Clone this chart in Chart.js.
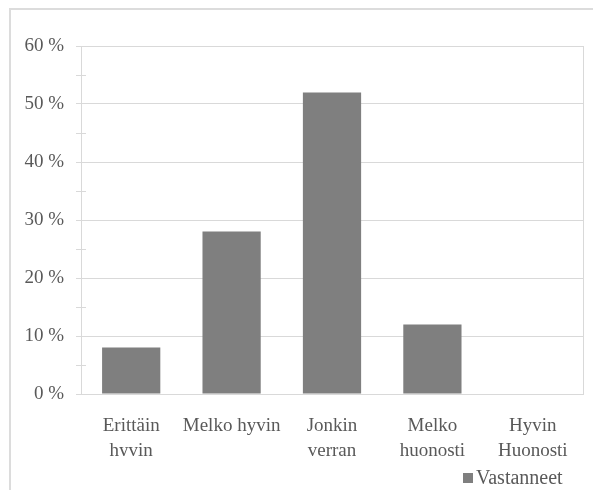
<!DOCTYPE html>
<html>
<head>
<meta charset="utf-8">
<script src="https://cdn.jsdelivr.net/npm/chart.js@4"></script>
<style>
  html, body { margin: 0; padding: 0; background: #fff; }
  #frame {
    position: absolute; left: 9px; top: 8px; width: 584px; height: 482px;
    border-top: 2px solid #dcdcdc; border-left: 2px solid #dcdcdc;
  }
  #wrap { position: absolute; left: 0; top: 0; width: 593px; height: 490px; }
  #legend {
    position: absolute; left: 463px; top: 467px; height: 20px;
    font: 20px "Liberation Serif", "DejaVu Serif", serif; color: #595959;
    white-space: nowrap; line-height: 20px;
  }
  #legend i {
    display: inline-block; width: 10px; height: 10px; background: #7f7f7f;
    margin-right: 3px; vertical-align: 1px;
  }
</style>
</head>
<body>
<div id="frame"></div>
<div id="wrap"><canvas id="chart" width="593" height="490"></canvas></div>
<div id="legend"><i></i>Vastanneet</div>
<script>
// data
var categories = [["Erittäin", "hyvin"], "Melko hyvin", ["Jonkin", "verran"], ["Melko", "huonosti"], ["Hyvin", "Huonosti"]];
var vastanneet = [8, 28, 52, 12, 0];
var yTicks = [0, 10, 20, 30, 40, 50, 60];

var textColor = "#595959";
var gridColor = "#d9d9d9";
var serif = "'Liberation Serif', 'DejaVu Serif', serif";

// small cross ticks at the half steps
var minorTicks = {
  id: "minorTicks",
  afterDraw: function (chart) {
    var y = chart.scales.y;
    var ctx = chart.ctx;
    ctx.save();
    ctx.strokeStyle = gridColor;
    ctx.lineWidth = 1;
    for (var i = 0; i < yTicks.length - 1; i++) {
      var py = Math.round(y.getPixelForValue((yTicks[i] + yTicks[i + 1]) / 2)) + 0.5;
      ctx.beginPath();
      ctx.moveTo(chart.chartArea.left - 5, py);
      ctx.lineTo(chart.chartArea.left + 5, py);
      ctx.stroke();
    }
    ctx.restore();
  }
};

function draw() {
  new Chart(document.getElementById("chart").getContext("2d"), {
    type: "bar",
    data: {
      labels: categories,
      datasets: [
        {
          label: "Vastanneet",
          data: vastanneet,
          backgroundColor: "#7f7f7f",
          categoryPercentage: 1,
          barPercentage: 0.58,
        },
      ],
    },
    options: {
      responsive: false,
      animation: false,
      layout: { padding: { left: 0, top: 46, right: 10, bottom: 34 } },
      plugins: {
        title: { display: false },
        tooltip: { enabled: false },
        legend: { display: false },
      },
      scales: {
        x: {
          grid: { display: false },
          border: { display: false },
          ticks: {
            color: textColor,
            font: { family: serif, size: 19, lineHeight: 1.29 },
            maxRotation: 0,
            autoSkip: false,
            padding: 12,
          },
          afterFit: function (scale) {
            scale.height = 62;
          },
        },
        y: {
          min: 0,
          max: 60,
          afterBuildTicks: function (scale) {
            scale.ticks = yTicks.map(function (v) { return { value: v }; });
          },
          grid: { color: gridColor, tickLength: 5, tickColor: gridColor },
          border: { display: true, color: gridColor },
          ticks: {
            color: textColor,
            font: { family: serif, size: 19 },
            padding: 12,
            callback: function (v) { return v + " %"; },
          },
          afterFit: function (scale) {
            scale.width = 81;
          },
        },
        y2: {
          position: "right",
          min: 0,
          max: 60,
          grid: { drawOnChartArea: false, drawTicks: false },
          border: { display: true, color: gridColor },
          ticks: { display: false },
          afterFit: function (scale) {
            scale.width = 0;
          },
        },
      },
    },
    plugins: [minorTicks],
  });
}

document.fonts.load("19px 'Liberation Serif'").then(draw, draw);
</script>
</body>
</html>
